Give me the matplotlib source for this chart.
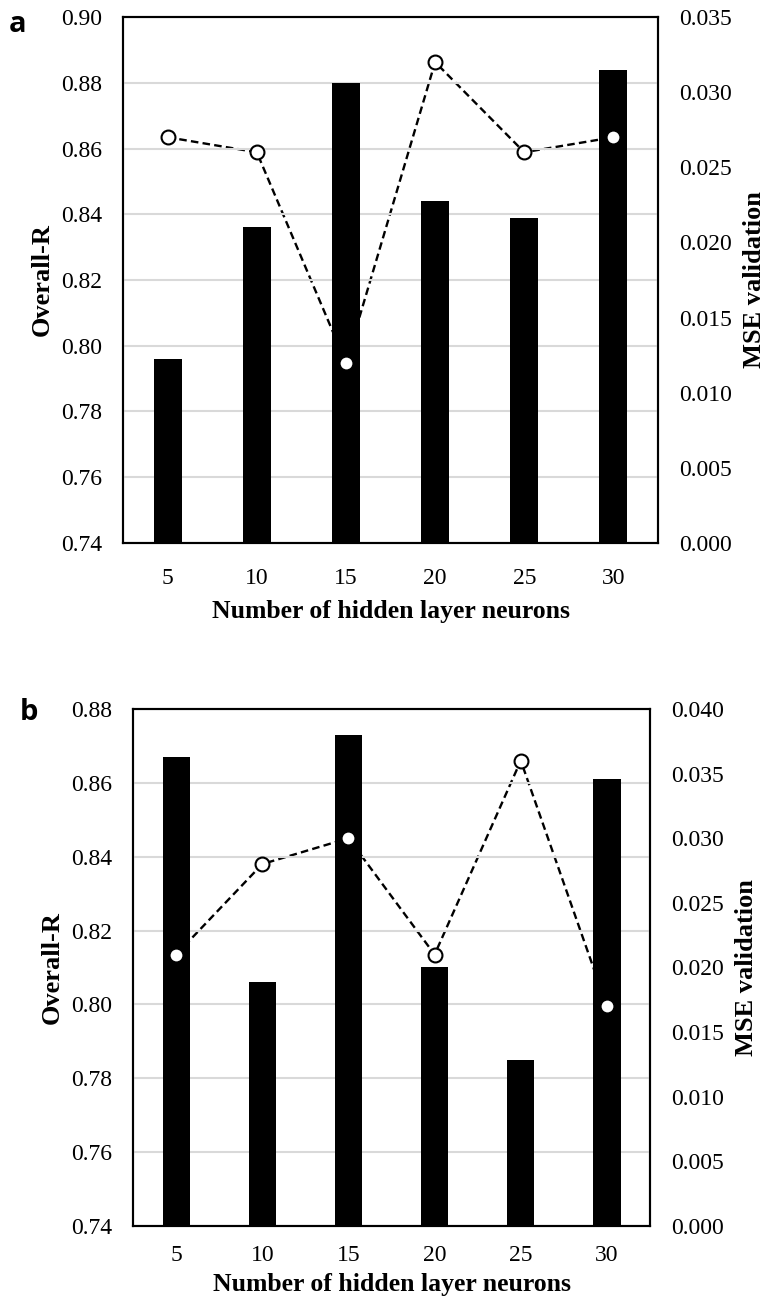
import matplotlib
matplotlib.use("Agg")
import matplotlib.pyplot as plt
import numpy as np

plt.rcParams['font.family'] = ['Liberation Serif', 'DejaVu Serif']

neurons = ["5", "10", "15", "20", "25", "30"]

# panel a
overall_r_a = [0.796, 0.836, 0.880, 0.844, 0.839, 0.884]
mse_a = [0.027, 0.026, 0.012, 0.032, 0.026, 0.027]

# panel b
overall_r_b = [0.867, 0.806, 0.873, 0.810, 0.785, 0.861]
mse_b = [0.021, 0.028, 0.030, 0.021, 0.036, 0.017]


def draw_panel(fig, rect, r_vals, mse_vals, r_lim, mse_lim, letter, letter_xy,
               xpad=18, xlabelpad=8):
    ax = fig.add_axes(rect)
    ax2 = ax.twinx()
    # left axis on top so the bars hide the dashed line
    ax.set_zorder(ax2.get_zorder() + 1)
    ax.patch.set_visible(False)

    x = np.arange(len(neurons))
    ax.bar(x, r_vals, width=0.315, color='black', zorder=3)
    ax2.plot(x, mse_vals, color='black', linestyle=(0, (3.2, 1.8)), linewidth=1.7, zorder=2)
    # markers drawn above the bars
    ax.plot(x, mse_vals, transform=ax2.transData, linestyle='none', marker='o',
            markersize=10, markerfacecolor='white', markeredgecolor='black',
            markeredgewidth=1.5, zorder=5, clip_on=False)

    ax.set_xlim(-0.5, len(neurons) - 0.5)
    ax.set_ylim(*r_lim)
    ax2.set_ylim(*mse_lim)
    r_ticks = np.arange(r_lim[0], r_lim[1] + 0.001, 0.02)
    ax.set_yticks(r_ticks)
    ax.set_yticklabels([f"{v:.2f}" for v in r_ticks])
    m_ticks = np.arange(0, mse_lim[1] + 0.0001, 0.005)
    ax2.set_yticks(m_ticks)
    ax2.set_yticklabels([f"{v:.3f}" for v in m_ticks])
    ax.set_xticks(x)
    ax.set_xticklabels(neurons)

    ax.yaxis.grid(True, color='#d9d9d9', linewidth=1.5, zorder=0)
    ax.set_axisbelow(True)
    ax.tick_params(axis='y', length=0, labelsize=17, pad=15)
    ax.tick_params(axis='x', length=0, labelsize=17, pad=xpad)
    ax2.tick_params(length=0, labelsize=17, pad=15)
    for sp in list(ax.spines.values()) + list(ax2.spines.values()):
        sp.set_linewidth(1.5)

    ax.set_xlabel("Number of hidden layer neurons", fontsize=18.5, fontweight='bold',
                  labelpad=xlabelpad)
    ax.set_ylabel("Overall-R", fontsize=19, fontweight='bold', labelpad=5)
    ax2.set_ylabel("MSE validation", fontsize=19, fontweight='bold', labelpad=8)

    fig.text(letter_xy[0], letter_xy[1], letter, fontsize=21, fontweight='bold',
             family=['Open Sans', 'DejaVu Sans'], va='center', ha='left')
    return ax


fig = plt.figure(figsize=(7.69, 13.09), dpi=100)
draw_panel(fig, [0.160, 0.5852, 0.6957, 0.4018], overall_r_a, mse_a,
           (0.74, 0.90), (0.0, 0.035), "a", (0.012, 1 - 24 / 1309))
draw_panel(fig, [0.173, 0.0634, 0.6723, 0.3950], overall_r_b, mse_b,
           (0.74, 0.88), (0.0, 0.040), "b", (0.026, 1 - 712 / 1309),
           xpad=14, xlabelpad=5)

fig.savefig("out.png", dpi=100)
